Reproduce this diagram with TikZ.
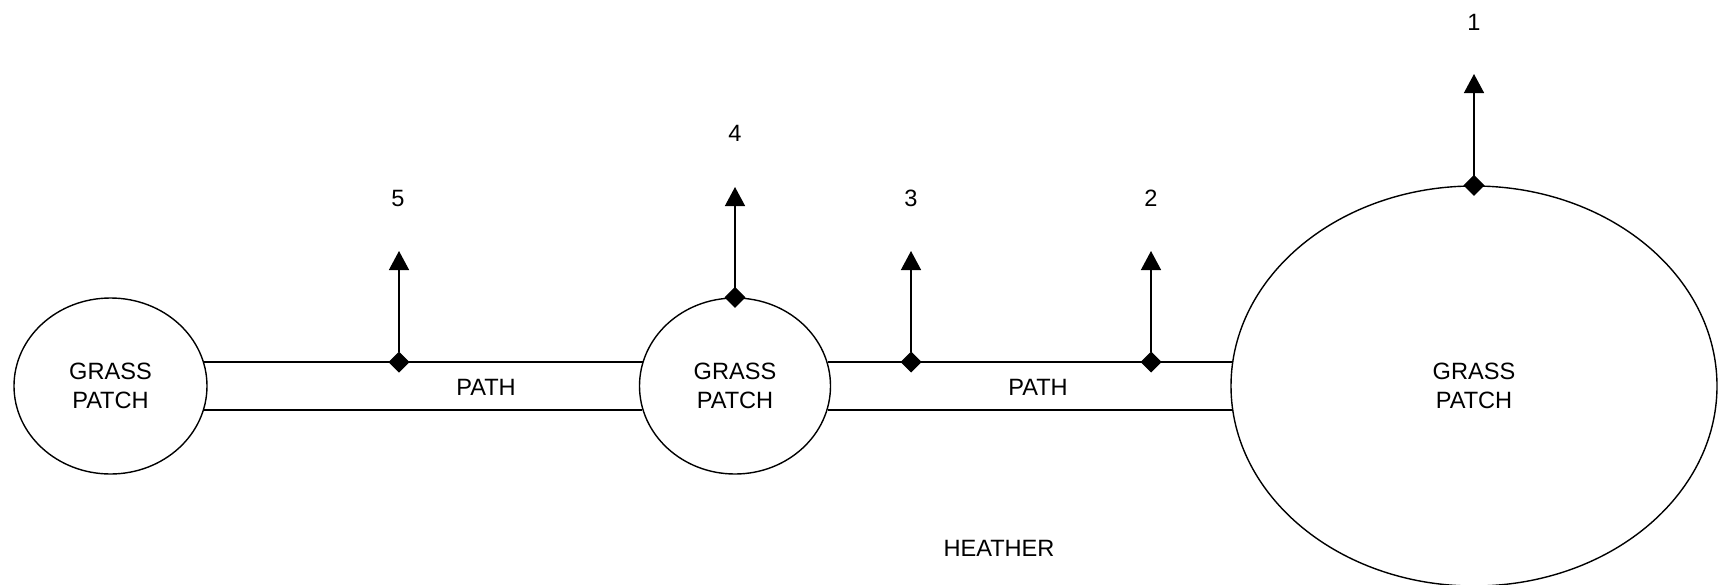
\documentclass[tikz,border=0pt]{standalone}
\usepackage{fontspec}
\setmainfont{Liberation Sans}
\usetikzlibrary{shapes.geometric,arrows.meta}
\begin{document}
\begin{tikzpicture}[x=0.5pt,y=-0.5pt,
  every node/.style={font=\fontsize{11.8}{14.2}\selectfont},
  patch/.style={draw,line width=0.7pt,ellipse,inner sep=0pt,align=center},
  edgeline/.style={line width=0.7pt},
  flow/.style={line width=0.7pt,{Diamond[length=10.5pt,width=10.5pt]}-{Triangle[length=9.5pt,width=10pt]}},
  lbl/.style={inner sep=0pt}]
\useasboundingbox (0,0) rectangle (1719,584);
\node[patch,minimum width=96.5pt,minimum height=88pt] (L) at (110.5,386) {GRASS\\PATCH};
\node[patch,minimum width=95.5pt,minimum height=88pt] (M) at (735,386) {GRASS\\PATCH};
\node[patch,minimum width=243pt,minimum height=200pt] (R) at (1474,386) {GRASS\\PATCH};
% path edge levels
\coordinate (top) at (0,362);
\coordinate (bot) at (0,410);
% paths
\draw[edgeline] (L.14.5 |- top) -- (M.165.5 |- top);
\draw[edgeline] (L.-14.5 |- bot) -- (M.194.5 |- bot);
\draw[edgeline] (M.14.5 |- top) -- (R.174.3 |- top);
\draw[edgeline] (M.-14.5 |- bot) -- (R.185.7 |- bot);
\node[lbl] (p1) at (486,387) {PATH};
\node[lbl] (p2) at (1038,387) {PATH};
\node[lbl] (h) at (999,548) {HEATHER};
% flow points
\coordinate (d5) at (399,362);
\coordinate (d3) at (911,362);
\coordinate (d2) at (1151,362);
\coordinate (t5) at (399,251);
\coordinate (t3) at (911,251);
\coordinate (t2) at (1151,251);
\coordinate (t4) at (735,187);
\coordinate (t1) at (1474,74);
\draw[flow] ([yshift=-5.25pt]d5) -- (t5);
\draw[flow] ([yshift=-5.25pt]d3) -- (t3);
\draw[flow] ([yshift=-5.25pt]d2) -- (t2);
\draw[flow] ([yshift=-5.25pt]M.north) -- (M.north |- t4);
\draw[flow] ([yshift=-5.25pt]R.north) -- (R.north |- t1);
% labels
\node[lbl] (n5) at (398,198) {5};
\node[lbl] (n4) at (735,133) {4};
\node[lbl] (n3) at (911,198) {3};
\node[lbl] (n2) at (1151,198) {2};
\node[lbl] (n1) at (1474,22) {1};
\end{tikzpicture}
\end{document}
